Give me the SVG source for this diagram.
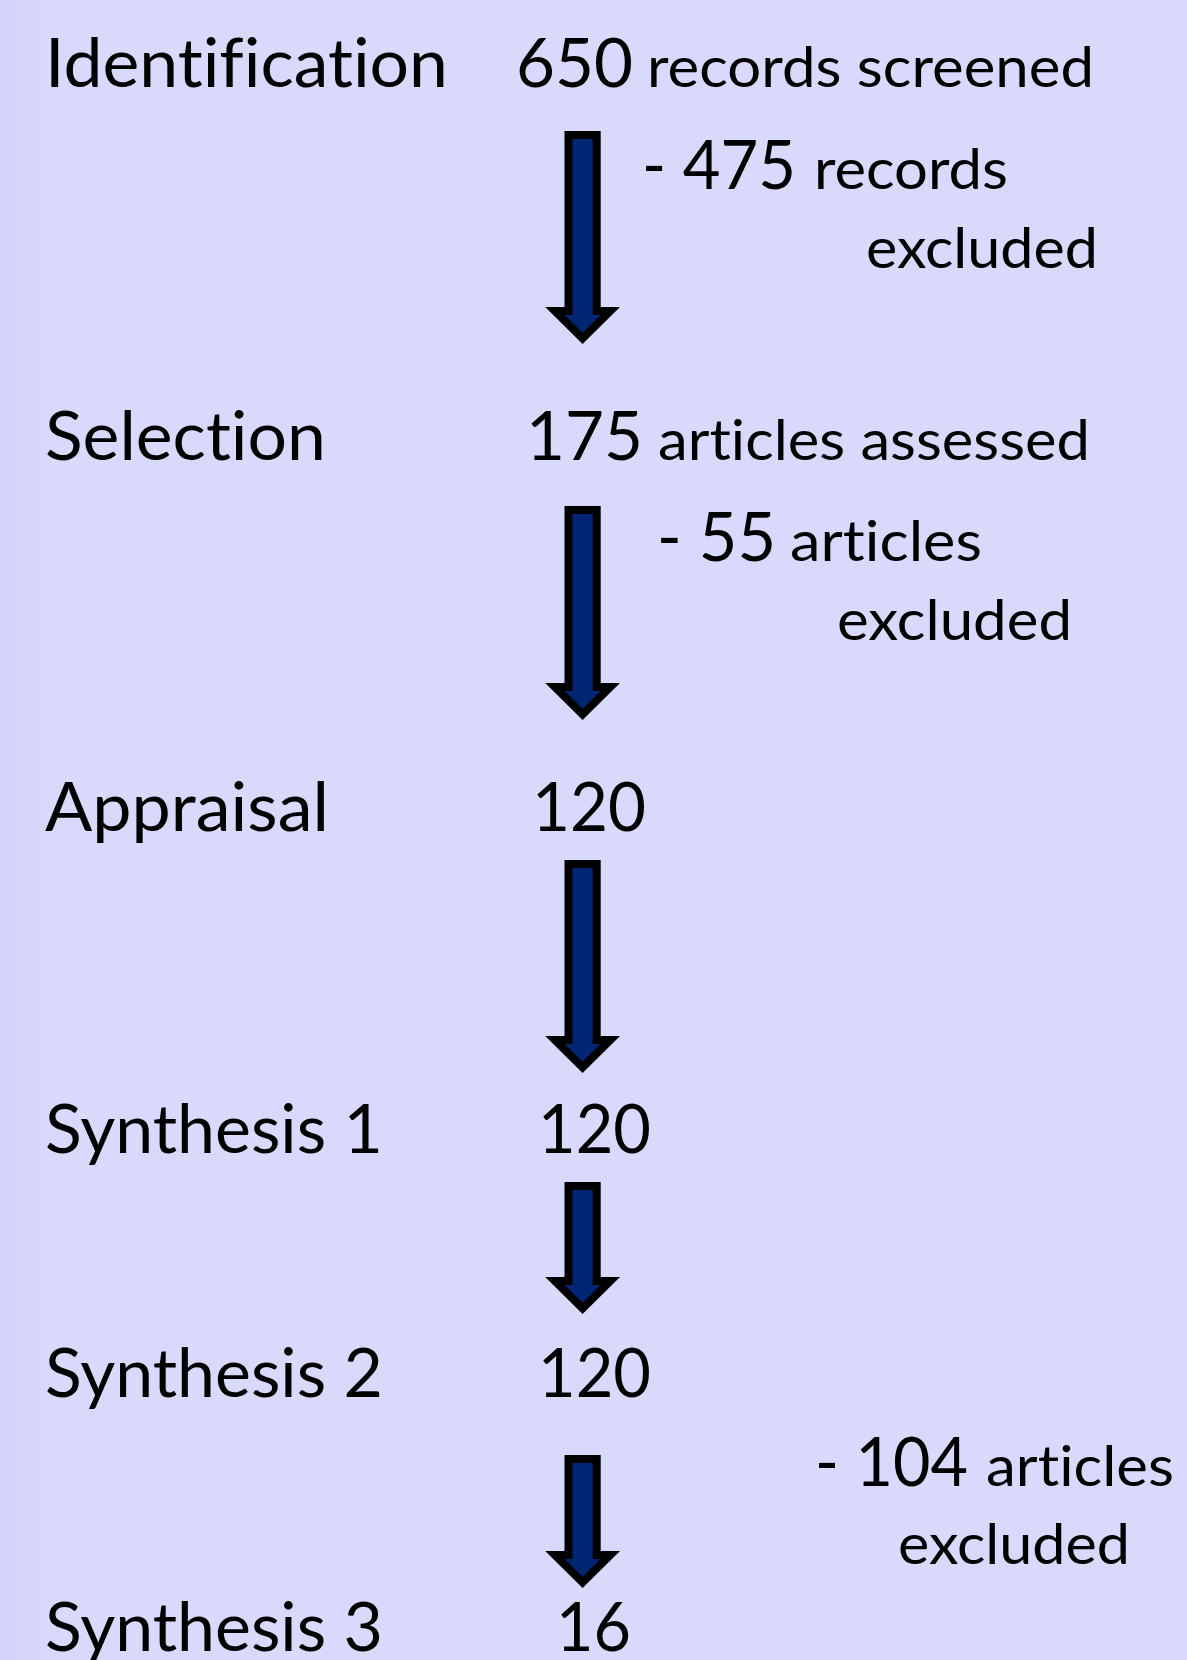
<svg xmlns="http://www.w3.org/2000/svg" width="1187" height="1660" viewBox="0 0 1187 1660">
<defs>
<linearGradient id="edge" x1="0" y1="0" x2="1" y2="0">
<stop offset="0" stop-color="#d2d2fa"/>
<stop offset="1" stop-color="#d9d9fc"/>
</linearGradient>
<style>
text{font-family:Lato,"Liberation Sans",sans-serif;fill:#000;font-variant-ligatures:none;font-feature-settings:"liga" 0,"clig" 0}
.lab{font-size:67px}
.num{font-size:67px}
.wrd{font-size:56.5px}
.arrow{fill:#002673;stroke:#000;stroke-width:8;stroke-linejoin:miter}
</style>
</defs>
<rect x="0" y="0" width="1187" height="1660" fill="#d9d9fc"/>
<rect x="0" y="0" width="46" height="1660" fill="url(#edge)"/>

<g id="connectors">
<path class="arrow" d="M568.5,135 H596.7 V311 H610.3 L582.6,338.4 L554.9,311 H568.5 Z"/>
<path class="arrow" d="M568.5,510 H596.7 V687 H610.3 L582.6,714.4 L554.9,687 H568.5 Z"/>
<path class="arrow" d="M568.5,864 H596.7 V1040 H610.3 L582.6,1067.4 L554.9,1040 H568.5 Z"/>
<path class="arrow" d="M568.5,1186 H596.7 V1281 H610.3 L582.6,1308.4 L554.9,1281 H568.5 Z"/>
<path class="arrow" d="M568.5,1459 H596.7 V1555 H610.3 L582.6,1582.4 L554.9,1555 H568.5 Z"/>
</g>

<g id="identification">
<text class="lab" x="45" y="87" textLength="403" lengthAdjust="spacingAndGlyphs">Identification</text>
<text class="num" x="516" y="87" textLength="117" lengthAdjust="spacingAndGlyphs">650</text>
<text class="wrd" x="647" y="87" textLength="447" lengthAdjust="spacingAndGlyphs">records screened</text>
</g>
<g id="excl1">
<text class="num" x="642" y="189" textLength="154" lengthAdjust="spacingAndGlyphs">- 475</text>
<text class="wrd" x="814" y="189" textLength="194" lengthAdjust="spacingAndGlyphs">records</text>
<text class="wrd" x="866" y="268" textLength="232" lengthAdjust="spacingAndGlyphs">excluded</text>
</g>

<g id="selection">
<text class="lab" x="45" y="460" textLength="281" lengthAdjust="spacingAndGlyphs">Selection</text>
<text class="num" x="526" y="460" textLength="117" lengthAdjust="spacingAndGlyphs">175</text>
<text class="wrd" x="658" y="460" textLength="432" lengthAdjust="spacingAndGlyphs">articles assessed</text>
</g>
<g id="excl2">
<text class="num" x="657" y="561" textLength="119" lengthAdjust="spacingAndGlyphs">- 55</text>
<text class="wrd" x="790" y="561" textLength="192" lengthAdjust="spacingAndGlyphs">articles</text>
<text class="wrd" x="837" y="640" textLength="235" lengthAdjust="spacingAndGlyphs">excluded</text>
</g>

<g id="appraisal">
<text class="lab" x="45" y="831" textLength="284" lengthAdjust="spacingAndGlyphs">Appraisal</text>
<text class="num" x="532" y="831" textLength="114" lengthAdjust="spacingAndGlyphs">120</text>
</g>

<g id="synthesis1">
<text class="lab" x="45" y="1153" textLength="338" lengthAdjust="spacingAndGlyphs">Synthesis 1</text>
<text class="num" x="538" y="1153" textLength="113" lengthAdjust="spacingAndGlyphs">120</text>
</g>

<g id="synthesis2">
<text class="lab" x="45" y="1397" textLength="338" lengthAdjust="spacingAndGlyphs">Synthesis 2</text>
<text class="num" x="538" y="1397" textLength="113" lengthAdjust="spacingAndGlyphs">120</text>
</g>
<g id="excl3">
<text class="num" x="815" y="1486" textLength="153" lengthAdjust="spacingAndGlyphs">- 104</text>
<text class="wrd" x="986" y="1486" textLength="188" lengthAdjust="spacingAndGlyphs">articles</text>
<text class="wrd" x="898" y="1564" textLength="232" lengthAdjust="spacingAndGlyphs">excluded</text>
</g>

<g id="synthesis3">
<text class="lab" x="45" y="1651" textLength="338" lengthAdjust="spacingAndGlyphs">Synthesis 3</text>
<text class="num" x="556" y="1651" textLength="75" lengthAdjust="spacingAndGlyphs">16</text>
</g>
</svg>
